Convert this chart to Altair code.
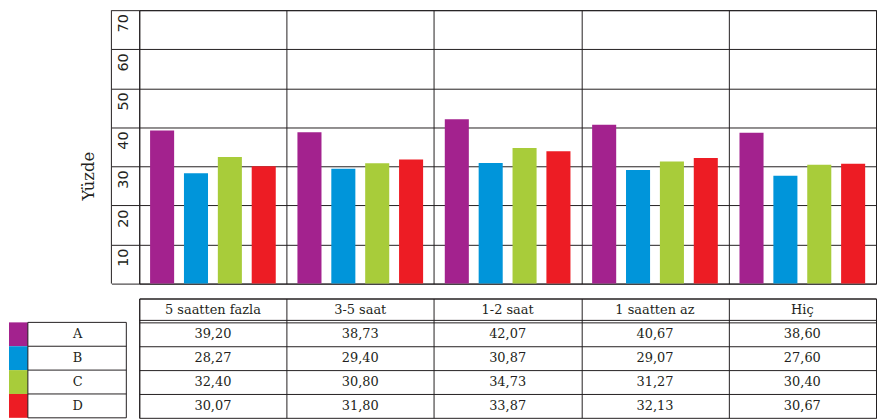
import altair as alt
import pandas as pd

# ---- data ----
groups = ["5 saatten fazla", "3-5 saat", "1-2 saat", "1 saatten az", "Hiç"]
series = ["A", "B", "C", "D"]
values_A = [39.20, 38.73, 42.07, 40.67, 38.60]
values_B = [28.27, 29.40, 30.87, 29.07, 27.60]
values_C = [32.40, 30.80, 34.73, 31.27, 30.40]
values_D = [30.07, 31.80, 33.87, 32.13, 30.67]
colors = ["#A3228E", "#0095DA", "#A8CC3A", "#ED1C24"]
y_ticks = [0, 10, 20, 30, 40, 50, 60, 70]
y_title = "Yüzde"

records = []
for s, vals in zip(series, [values_A, values_B, values_C, values_D]):
    for g, v in zip(groups, vals):
        records.append({"group": g, "series": s, "row": s, "value": v,
                        "label": f"{v:.2f}".replace(".", ",")})
df = pd.DataFrame(records)
header_df = pd.DataFrame({"group": groups, "row": ["header"] * len(groups), "label": groups})
leg_df = pd.DataFrame({"row": series, "series": series})
one = pd.DataFrame({"row": ["A"]})

INK = "#231F20"
SERIF = "DejaVu Serif"
W, H, TH = 741, 275, 120

xscale = alt.Scale(domain=groups, paddingInner=0, paddingOuter=0)
color = alt.Color("series:N", scale=alt.Scale(domain=series, range=colors), legend=None)
xaxis = alt.Axis(grid=True, tickBand="extent", labels=False, ticks=False, domain=False,
                 title=None, minExtent=0)

# ---- bar chart ----
bars = alt.Chart(df).mark_bar().encode(
    x=alt.X("group:N", scale=xscale, axis=xaxis),
    xOffset=alt.XOffset("series:N", scale=alt.Scale(domain=series, paddingInner=0.29, paddingOuter=0.32)),
    y=alt.Y("value:Q", scale=alt.Scale(domain=[0, 70], nice=False),
            axis=alt.Axis(values=y_ticks, grid=True, domain=False,
                          tickSize=28, tickColor=INK, tickWidth=1,
                          labelExpr="datum.value == 0 ? '' : datum.label",
                          labelAngle=270, labelAlign="right", labelBaseline="middle",
                          labelPadding=-12.5, labelOffset=3.5, labelFlush=False,
                          labelOverlap=False, labelFont="DejaVu Sans", labelFontSize=14.5,
                          labelColor=INK,
                          title=y_title, titleFont=SERIF, titleFontSize=16.5,
                          titleFontWeight="normal", titleColor=INK, titleAngle=270,
                          titleX=-51, titleY=166.5, titleAlign="center",
                          titleBaseline="middle")),
    color=color,
)
outer = alt.Chart(one).mark_rule(color=INK, strokeWidth=1).encode(
    x=alt.value(-28), y=alt.value(0), y2=alt.value(H))
top = alt.layer(bars, outer).properties(width=W, height=H)

# ---- table ----
rows_domain = ["header"] + series
yscale_t = alt.Scale(domain=rows_domain, paddingInner=0, paddingOuter=0)
yaxis_t = alt.Axis(grid=True, bandPosition=0, labels=False, ticks=False, domain=False, title=None)
xt = alt.X("group:N", scale=xscale, axis=xaxis)
yt = alt.Y("row:N", scale=yscale_t, axis=yaxis_t)
yt0 = alt.Y("row:N", scale=yscale_t, axis=yaxis_t, bandPosition=0)

header_text = alt.Chart(header_df).mark_text(font=SERIF, fontSize=13, color=INK).encode(
    x=xt, y=yt, text="label:N")
value_text = alt.Chart(df).mark_text(font=SERIF, fontSize=13, color=INK).encode(
    x=xt, y=yt, text="label:N")
double = alt.Chart(one).mark_rule(color=INK, yOffset=-2).encode(
    y=yt0, x=alt.value(0), x2=alt.value(W))
swatch = alt.Chart(leg_df).mark_rect().encode(
    x=alt.value(-131), x2=alt.value(-112), y=yt, color=color)
letters = alt.Chart(leg_df).mark_text(font=SERIF, fontSize=13, color=INK).encode(
    x=alt.value(-62), y=yt, text="row:N")
leg_h = alt.Chart(leg_df).mark_rule(color=INK).encode(
    y=yt0, x=alt.value(-112), x2=alt.value(-13))
leg_bottom = alt.Chart(one).mark_rule(color=INK).encode(
    y=alt.value(TH), x=alt.value(-112), x2=alt.value(-13))
leg_v1 = alt.Chart(one).mark_rule(color=INK).encode(
    x=alt.value(-112), y=yt0, y2=alt.value(TH))
leg_v2 = alt.Chart(one).mark_rule(color=INK).encode(
    x=alt.value(-13), y=yt0, y2=alt.value(TH))

table = alt.layer(header_text, value_text, double, swatch, letters,
                  leg_h, leg_bottom, leg_v1, leg_v2).properties(width=W, height=TH)

chart = alt.vconcat(top, table, spacing=10).properties(
    padding={"left": 0, "top": 0, "right": 0, "bottom": 0}
).configure_view(
    stroke=INK, strokeWidth=1
).configure_axis(
    gridColor=INK, gridOpacity=1, gridWidth=1
)

chart.save("out.html", embed_options={"renderer": "svg", "actions": False})
